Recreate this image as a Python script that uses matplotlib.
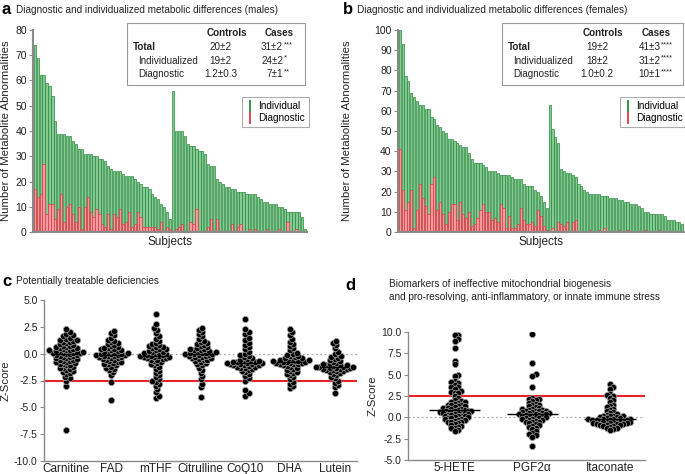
import matplotlib
matplotlib.use('Agg')
import matplotlib.pyplot as plt
import numpy as np
from matplotlib.lines import Line2D
from matplotlib.patches import Rectangle
from matplotlib.ticker import FormatStrFormatter

plt.rcParams['font.family'] = ['Liberation Sans', 'DejaVu Sans']
plt.rcParams['axes.unicode_minus'] = False

# ---- data: bar panels (sorted abnormality counts per subject) ----
m_tot1 = [74, 69, 62, 62, 59, 58, 54, 44, 39, 39, 39, 38, 38, 36, 35, 33, 33, 31, 31, 31, 30, 30, 29, 29,
          28, 26, 25, 24, 24, 24, 23, 22, 22, 22, 21, 20, 19, 18, 18, 17, 15, 14, 13, 11, 10, 8, 5]
m_diag1 = [17, 14, 15, 27, 7, 11, 11, 5, 9, 15, 4, 10, 11, 7, 4, 10, 1, 10, 14, 8, 6, 9, 7, 3,
           2, 7, 1, 7, 6, 9, 3, 4, 8, 2, 3, 8, 6, 2, 2, 2, 2, 2, 1, 4, 0, 2, 1]
m_tot2 = [56, 40, 40, 40, 38, 35, 34, 34, 33, 32, 32, 31, 27, 26, 26, 21, 20, 19, 18, 18, 17, 17, 16,
          16, 16, 15, 15, 15, 15, 14, 13, 12, 12, 11, 11, 11, 10, 10, 9, 8, 8, 8, 8, 8, 6, 1]
m_diag2 = [0, 1, 2, 3, 0, 0, 4, 3, 9, 0, 0, 0, 2, 5, 0, 5, 0, 0, 0, 0, 3, 0, 2,
           3, 0, 0, 1, 0, 1, 0, 0, 0, 1, 0, 0, 0, 1, 0, 0, 4, 0, 0, 1, 0, 0, 0]

f_tot1 = [100, 93, 77, 75, 69, 67, 65, 63, 63, 61, 61, 57, 56, 53, 52, 50, 49, 46, 46, 45, 44, 43, 42, 42, 39, 36,
          34, 34, 34, 33, 32, 30, 30, 30, 29, 28, 28, 28, 28, 27, 26, 26, 26, 24, 23, 23, 23, 21, 20, 18, 15, 12]
f_diag1 = [41, 21, 11, 15, 21, 2, 11, 24, 17, 13, 9, 24, 27, 11, 15, 9, 4, 10, 14, 14, 6, 15, 9, 7, 10, 3,
           4, 7, 11, 14, 10, 10, 6, 7, 5, 14, 12, 2, 8, 2, 2, 4, 12, 6, 4, 4, 5, 3, 11, 8, 3, 1]
f_tot2 = [63, 51, 47, 44, 31, 30, 29, 29, 28, 27, 24, 23, 21, 20, 19, 19, 19, 19, 18, 18, 18, 17, 17, 17,
          16, 16, 15, 15, 14, 14, 14, 13, 12, 10, 10, 9, 9, 9, 9, 9, 8, 6, 6, 6, 5, 5, 4]
f_diag2 = [0, 2, 0, 5, 4, 3, 5, 0, 5, 6, 0, 0, 0, 0, 1, 0, 0, 1, 0, 2, 0, 0, 0, 0,
           1, 0, 0, 1, 0, 0, 0, 0, 0, 1, 0, 0, 0, 0, 1, 0, 0, 0, 0, 0, 0, 0, 0]

males_tab = [('Total', '20±2', '31±2', '***'), ('Individualized', '19±2', '24±2', '*'),
             ('Diagnostic', '1.2±0.3', '7±1', '**')]
females_tab = [('Total', '19±2', '41±3', '****'), ('Individualized', '18±2', '31±2', '****'),
               ('Diagnostic', '1.0±0.2', '10±1', '****')]

# ---- data: z-score panels ----
c_cats = ['Carnitine', 'FAD', 'mTHF', 'Citrulline', 'CoQ10', 'DHA', 'Lutein']
carnitine = [-7.1, -3.0, -2.5, -2.3, -2.2, -1.9, -1.8, -1.7, -1.6, -1.5, -1.4, -1.35, -1.3, -1.2, -1.1, -1.05,
             -1.0, -0.95, -0.9, -0.8, -0.75, -0.7, -0.65, -0.6, -0.55, -0.5, -0.45, -0.4, -0.35, -0.3, -0.25,
             -0.2, -0.15, -0.1, -0.05, 0.0, 0.05, 0.05, 0.1, 0.1, 0.15, 0.2, 0.2, 0.25, 0.3, 0.3, 0.35, 0.4,
             0.45, 0.5, 0.55, 0.6, 0.65, 0.7, 0.75, 0.8, 0.9, 1.0, 1.05, 1.1, 1.2, 1.25, 1.3, 1.4, 1.5, 1.6,
             1.7, 1.8, 2.0, 2.3]
fad = [-4.3, -2.6, -2.0, -1.7, -1.5, -1.4, -1.3, -1.2, -1.1, -1.0, -0.95, -0.9, -0.8, -0.75, -0.7, -0.6,
       -0.55, -0.5, -0.45, -0.4, -0.35, -0.3, -0.25, -0.2, -0.2, -0.15, -0.1, -0.1, -0.05, 0.0, 0.0, 0.05,
       0.1, 0.15, 0.2, 0.25, 0.3, 0.35, 0.4, 0.45, 0.5, 0.55, 0.6, 0.7, 0.8, 0.9, 1.0, 1.1, 1.2, 1.3, 1.5,
       1.7, 1.9, 2.1]
mthf = [-4.1, -3.9, -3.6, -3.3, -3.0, -2.8, -2.6, -2.5, -2.4, -2.2, -2.0, -1.8, -1.6, -1.4, -1.2, -1.1,
        -1.0, -0.9, -0.8, -0.7, -0.6, -0.55, -0.5, -0.45, -0.4, -0.35, -0.3, -0.3, -0.25, -0.2, -0.2, -0.15,
        -0.1, -0.05, 0.0, 0.05, 0.1, 0.15, 0.2, 0.25, 0.3, 0.4, 0.45, 0.5, 0.6, 0.65, 0.7, 0.8, 0.9, 1.0,
        1.2, 1.4, 1.6, 1.9, 2.2, 2.4, 2.8, 3.7]
citrulline = [-4.0, -3.1, -2.8, -2.4, -2.1, -1.8, -1.5, -1.3, -1.1, -1.0, -0.9, -0.8, -0.7, -0.6, -0.55,
              -0.5, -0.45, -0.4, -0.35, -0.3, -0.25, -0.2, -0.15, -0.1, -0.05, 0.0, 0.0, 0.05, 0.1, 0.1, 0.15,
              0.2, 0.25, 0.3, 0.35, 0.4, 0.45, 0.5, 0.6, 0.7, 0.8, 0.9, 1.0, 1.1, 1.2, 1.4, 1.6, 1.8, 2.0,
              2.2, 2.4]
coq10 = [-3.9, -3.7, -3.4, -2.5, -2.3, -2.1, -1.9, -1.7, -1.6, -1.5, -1.4, -1.35, -1.3, -1.2, -1.2, -1.15,
         -1.1, -1.1, -1.05, -1.0, -1.0, -0.95, -0.9, -0.9, -0.85, -0.8, -0.8, -0.75, -0.7, -0.7, -0.65, -0.6,
         -0.5, -0.4, -0.3, -0.2, -0.1, 0.0, 0.2, 0.4, 0.6, 0.8, 1.0, 1.3, 1.5, 1.8, 2.0, 2.3, 3.2]
dha = [-3.2, -3.0, -2.8, -2.6, -2.4, -2.2, -2.0, -1.9, -1.8, -1.7, -1.6, -1.5, -1.4, -1.3, -1.2, -1.15,
       -1.1, -1.0, -1.0, -0.95, -0.9, -0.9, -0.85, -0.8, -0.8, -0.75, -0.7, -0.7, -0.65, -0.6, -0.6, -0.55,
       -0.5, -0.45, -0.4, -0.3, -0.25, -0.2, -0.1, 0.0, 0.1, 0.3, 0.5, 0.7, 0.9, 1.1, 1.4, 1.7, 2.0, 2.3]
lutein = [-3.7, -3.1, -2.9, -2.7, -2.5, -2.3, -2.2, -2.0, -1.9, -1.8, -1.7, -1.65, -1.6, -1.5, -1.5, -1.45,
          -1.4, -1.4, -1.35, -1.3, -1.3, -1.25, -1.2, -1.2, -1.2, -1.15, -1.1, -1.1, -1.05, -1.0, -1.0, -0.9,
          -0.8, -0.7, -0.6, -0.5, -0.4, -0.3, -0.2, 0.0, 0.2, 0.5, 0.8, 1.0, 1.2]
c_vals = [carnitine, fad, mthf, citrulline, coq10, dha, lutein]

d_cats = ['5-HETE', 'PGF2α', 'Itaconate']
hete = [9.7, 9.6, 9.2, 8.9, 8.1, 6.6, 6.2, 5.0, 4.8, 4.3, 4.1, 4.0, 3.8, 3.6, 3.5, 3.3, 3.1, 3.0, 2.9, 2.8,
        2.5, 2.3, 2.0, 1.9, 1.8, 1.8, 1.7, 1.6, 1.5, 1.5, 1.4, 1.3, 1.3, 1.2, 1.1, 1.1, 1.0, 1.0, 0.9, 0.9,
        0.8, 0.8, 0.7, 0.7, 0.65, 0.6, 0.6, 0.55, 0.5, 0.5, 0.4, 0.4, 0.3, 0.3, 0.2, 0.2, 0.1, 0.1, 0.0, 0.0,
        -0.1, -0.1, -0.2, -0.2, -0.3, -0.3, -0.4, -0.5, -0.5, -0.6, -0.7, -0.8, -0.9, -1.0, -1.1, -1.2, -1.3,
        -1.5, -1.6]
pgf2a = [9.8, 6.4, 5.1, 4.8, 3.5, 2.3, 2.2, 2.1, 2.0, 1.9, 1.7, 1.6, 1.5, 1.4, 1.3, 1.2, 1.1, 1.0, 1.0, 0.9,
         0.9, 0.8, 0.8, 0.7, 0.7, 0.6, 0.6, 0.5, 0.5, 0.45, 0.4, 0.4, 0.35, 0.3, 0.3, 0.2, 0.2, 0.1, 0.1, 0.0,
         0.0, -0.1, -0.1, -0.2, -0.2, -0.3, -0.3, -0.4, -0.5, -0.5, -0.6, -0.7, -0.8, -0.9, -1.0, -1.1, -1.2,
         -1.4, -1.6, -1.8, -2.0, -2.1, -2.3, -3.4]
itaconate = [3.9, 3.6, 3.3, 2.7, 2.6, 2.5, 2.3, 2.0, 1.8, 1.5, 1.3, 1.2, 1.0, 0.9, 0.8, 0.6, 0.5, 0.4, 0.3,
             0.2, 0.2, 0.1, 0.1, 0.0, 0.0, -0.1, -0.1, -0.15, -0.2, -0.2, -0.25, -0.3, -0.3, -0.3, -0.35, -0.4,
             -0.4, -0.45, -0.5, -0.5, -0.55, -0.6, -0.6, -0.65, -0.7, -0.7, -0.75, -0.8, -0.8, -0.85, -0.9,
             -0.9, -1.0, -1.0, -1.1, -1.2, -1.3, -1.4, -1.5]
d_vals = [hete, pgf2a, itaconate]

W, H = 685, 474
GREEN, LGREEN = '#268a3c', '#86c891'
RED, LRED = '#e23a46', '#f29aa0'
AXC = '#8a8a8a'
TXT = '#222222'


def box(l, t, r, b):
    return [l / W, 1 - b / H, (r - l) / W, (b - t) / H]


def px(x, y):
    return x / W, 1 - y / H


def style(ax):
    for s in ['top', 'right']:
        ax.spines[s].set_visible(False)
    for s in ['left', 'bottom']:
        ax.spines[s].set_color(AXC)
        ax.spines[s].set_linewidth(1.0)
    ax.tick_params(axis='y', colors=AXC, labelcolor=TXT, labelsize=7.5, length=3, width=0.8, pad=1.5)


fig = plt.figure(figsize=(6.85, 4.74), dpi=100)


def bar_panel(rect, tot, diag, ymax, step, leg_xy, tab, tab_box, letter, title, letter_x):
    ax = fig.add_axes(box(*rect))
    x = np.arange(len(tot))
    ax.bar(x, tot, width=0.75, color=LGREEN, edgecolor=GREEN, linewidth=0.5)
    ax.bar(x, diag, width=0.75, color=LRED, edgecolor=RED, linewidth=0.5)
    ax.set_xlim(-0.6, len(tot) - 0.4)
    ax.set_ylim(0, ymax)
    ax.set_yticks(np.arange(0, ymax + 1, step))
    ax.set_xticks([])
    style(ax)
    ax.spines['bottom'].set_linewidth(1.5)
    ax.spines['left'].set_linewidth(1.5)
    ax.set_ylabel('Number of Metabolite Abnormalities', fontsize=8.2, color=TXT)
    ax.yaxis.set_label_coords((letter_x + 9 - rect[0]) / (rect[2] - rect[0]), 0.5)
    ax.set_xlabel('Subjects', fontsize=8.5, color=TXT, labelpad=3)
    handles = [Line2D([], [], color=GREEN, marker='|', ls='None', markersize=8, mew=1.3),
               Line2D([], [], color=RED, marker='|', ls='None', markersize=8, mew=1.3)]
    leg = ax.legend(handles, ['Individual', 'Diagnostic'], loc='upper left', bbox_to_anchor=leg_xy,
                    borderaxespad=0, fontsize=7.2, handlelength=0.8, handletextpad=0.4,
                    borderpad=0.4, labelspacing=0.2, fancybox=False, edgecolor='#999999')
    leg.get_frame().set_linewidth(0.8)
    # summary table
    l, t, r, b = tab_box
    fig.add_artist(Rectangle(px(l, b), (r - l) / W, (b - t) / H, transform=fig.transFigure,
                             fill=False, edgecolor='#999999', lw=0.8))
    cx, sx = l + 0.52 * (r - l), l + 0.77 * (r - l)
    fs = 7.1
    fig.text(*px(cx + 7, t + 10), 'Controls', fontsize=fs, weight='bold', ha='center', va='center', color=TXT)
    fig.text(*px(sx + 15, t + 10), 'Cases', fontsize=fs, weight='bold', ha='center', va='center', color=TXT)
    for i, (lab, ctrl, case, star) in enumerate(tab):
        yy = t + 24 + 13.5 * i
        fig.text(*px(l + (6 if i == 0 else 11), yy), lab, fontsize=fs, va='center', color=TXT,
                 weight='bold' if i == 0 else 'normal')
        fig.text(*px(cx + 1, yy), ctrl, fontsize=fs, ha='center', va='center', color=TXT)
        fig.text(*px(sx + 19, yy), case, fontsize=fs, ha='right', va='center', color=TXT)
        fig.text(*px(sx + 19.5, yy - 2.5), star, fontsize=5.5, ha='left', va='center', color=TXT)
    fig.text(*px(letter_x, 10), letter, fontsize=12, weight='bold', va='center', color='black')
    fig.text(*px(letter_x + 14, 10), title, fontsize=7.2, va='center', color=TXT)
    return ax


bar_panel((33, 30, 307, 232), m_tot1 + m_tot2, m_diag1 + m_diag2, 80, 10, (0.763, 0.668),
          males_tab, (127, 23, 305, 85), 'a', 'Diagnostic and individualized metabolic differences (males)', 2)
bar_panel((398, 30, 684, 232), f_tot1 + f_tot2, f_diag1 + f_diag2, 100, 10, (0.776, 0.668),
          females_tab, (502, 23, 683, 85), 'b', 'Diagnostic and individualized metabolic differences (females)', 343)


def swarm_offsets(vals, unit_px, gap):
    # simple beeswarm: place points in value order, side-stepping until gap px clears neighbours
    ys = np.asarray(vals, float) * unit_px
    order = np.argsort(ys)
    xs = np.zeros(len(ys))
    done = []
    for k in order:
        cands = [0.0]
        for j in range(1, 40):
            cands += [j * gap * 0.5, -j * gap * 0.5]
        for c in cands:
            if all((c - xs[m]) ** 2 + (ys[k] - ys[m]) ** 2 >= gap ** 2 for m in done):
                xs[k] = c
                break
        done.append(k)
    return xs


def swarm_panel(rect, cats, vals, ylim, redline, half, lab_x):
    ax = fig.add_axes(box(*rect))
    ax.axhline(0, color='#aaaaaa', ls=(0, (1.5, 2)), lw=0.9, zorder=0)
    ax.axhline(redline, color='#e8202a', lw=1.5, zorder=0.5)
    ax.set_xlim(-0.5, len(cats) - 0.5)
    ax.set_ylim(*ylim)
    unit_px = (rect[3] - rect[1]) / (ylim[1] - ylim[0])
    cat_px = (rect[2] - rect[0]) / len(cats)
    for i, v in enumerate(vals):
        xo = swarm_offsets(v, unit_px, 3.4) / cat_px
        ax.scatter(i + xo, v, s=20, color='black', edgecolors='#a0a0a0', linewidths=0.5, zorder=2)
        ax.hlines(np.median(v), i - half, i + half, color='black', lw=1.0, zorder=3)
    ax.set_xticks(range(len(cats)))
    ax.set_xticklabels(cats)
    ax.set_yticks(np.arange(ylim[0], ylim[1] + 0.1, 2.5))
    ax.yaxis.set_major_formatter(FormatStrFormatter('%.1f'))
    style(ax)
    ax.tick_params(axis='x', length=0, labelsize=8.5, labelcolor=TXT, pad=1.5)
    ax.set_ylabel('Z-Score', fontsize=8.2, color=TXT)
    ax.yaxis.set_label_coords((lab_x - rect[0]) / (rect[2] - rect[0]), 0.5)
    return ax


swarm_panel((44, 300, 357, 461), c_cats, c_vals, (-10, 5), -2.5, 0.3, 11)
fig.text(*px(2, 281), 'c', fontsize=12, weight='bold', va='center', color='black')
fig.text(*px(16, 281), 'Potentially treatable deficiencies', fontsize=7.2, va='center', color=TXT)

ax_d = swarm_panel((408, 332, 645, 460), d_cats, d_vals, (-5, 10), 2.5, 0.33, 378)
ax_d.set_xlim(-0.6, 2.45)
fig.text(*px(345, 285), 'd', fontsize=12, weight='bold', va='center', color='black')
fig.text(*px(389, 284), 'Biomarkers of ineffective mitochondrial biogenesis', fontsize=7.2,
         va='center', color=TXT)
fig.text(*px(389, 297), 'and pro-resolving, anti-inflammatory, or innate immune stress', fontsize=7.2,
         va='center', color=TXT)

fig.savefig('out.png', dpi=100)
